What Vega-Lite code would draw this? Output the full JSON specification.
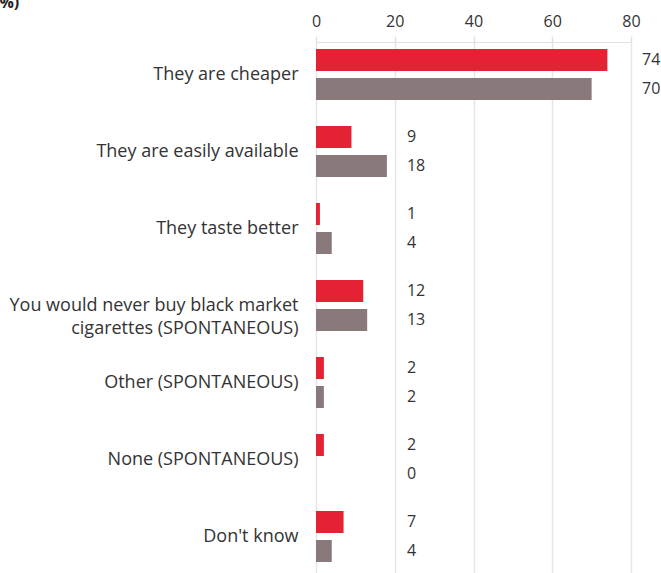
{
  "$schema": "https://vega.github.io/schema/vega-lite/v6.json",
  "autosize": "none",
  "width": 315,
  "height": 539,
  "padding": {"left": 316, "top": 36, "right": 30, "bottom": 0},
  "background": "white",
  "title": {"text": "(%)", "anchor": "start", "frame": "group", "dx": -322, "offset": -11, "baseline": "alphabetic", "fontSize": 16, "fontWeight": "bold", "font": "Open Sans", "color": "#222"},
  "config": {"view": {"stroke": null}, "font": "Open Sans"},
  "data": {"values": [
    {"cat": "They are cheaper", "series": "A", "value": 74},
    {"cat": "They are cheaper", "series": "B", "value": 70},
    {"cat": "They are easily available", "series": "A", "value": 9},
    {"cat": "They are easily available", "series": "B", "value": 18},
    {"cat": "They taste better", "series": "A", "value": 1},
    {"cat": "They taste better", "series": "B", "value": 4},
    {"cat": "You would never buy black market|cigarettes (SPONTANEOUS)", "series": "A", "value": 12},
    {"cat": "You would never buy black market|cigarettes (SPONTANEOUS)", "series": "B", "value": 13},
    {"cat": "Other (SPONTANEOUS)", "series": "A", "value": 2},
    {"cat": "Other (SPONTANEOUS)", "series": "B", "value": 2},
    {"cat": "None (SPONTANEOUS)", "series": "A", "value": 2},
    {"cat": "None (SPONTANEOUS)", "series": "B", "value": 0},
    {"cat": "Don't know", "series": "A", "value": 7},
    {"cat": "Don't know", "series": "B", "value": 4}
  ]},
  "transform": [
    {"joinaggregate": [{"op": "max", "field": "value", "as": "gmax"}], "groupby": ["cat"]},
    {"calculate": "datum.gmax > 30 ? 82.8 : 23.1", "as": "lx"}
  ],
  "encoding": {
    "y": {"field": "cat", "type": "nominal", "sort": null,
      "scale": {"paddingInner": 0, "paddingOuter": 0},
      "axis": {"title": null, "domain": false, "ticks": false, "labelExpr": "split(datum.label, '|')",
        "labelFontSize": 18, "labelColor": "#333", "labelPadding": 18, "labelLimit": 400, "labelLineHeight": 23, "labelFont": "Open Sans"}},
    "yOffset": {"field": "series", "type": "nominal", "scale": {"paddingInner": 0.241, "paddingOuter": 0.448}}
  },
  "layer": [
    {
      "mark": {"type": "bar"},
      "encoding": {
        "x": {"field": "value", "type": "quantitative", "scale": {"domain": [0, 80], "nice": false},
          "axis": {"orient": "top", "title": null, "values": [0, 20, 40, 60, 80], "grid": true, "gridColor": "#e6e6e6", "gridWidth": 1.5,
            "domainColor": "#e0e0e0", "tickColor": "#e0e0e0", "tickSize": 5, "offset": -6, "labelFlush": false,
            "labelFontSize": 16, "labelColor": "#333", "labelPadding": 8, "labelFont": "Open Sans"}},
        "color": {"field": "series", "type": "nominal", "scale": {"domain": ["A", "B"], "range": ["#e52233", "#8a797b"]}, "legend": null}
      }
    },
    {
      "mark": {"type": "text", "align": "left", "baseline": "middle", "fontSize": 16, "color": "#333", "font": "Open Sans"},
      "encoding": {
        "x": {"field": "lx", "type": "quantitative"},
        "text": {"field": "value", "type": "quantitative"}
      }
    }
  ]
}
